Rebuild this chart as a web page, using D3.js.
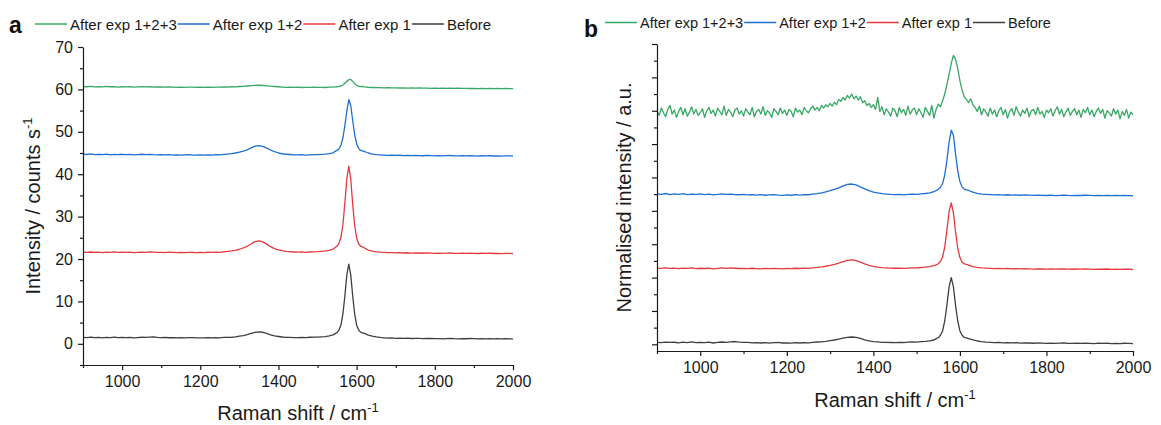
<!DOCTYPE html>
<html>
<head>
<meta charset="utf-8">
<script src="https://cdn.jsdelivr.net/npm/d3@7"></script>
<style>
  body { margin: 0; background: #fff; }
  svg { font-family: "Liberation Sans", Arial, sans-serif; }
</style>
</head>
<body>
<svg id="chart" width="1161" height="425"></svg>
<script>
// Raman shift sample positions (cm-1)
const shift = [
  900,910,920,930,940,950,960,970,980,990,
  1000,1010,1020,1030,1040,1050,1060,1070,1080,1090,
  1100,1110,1120,1130,1140,1150,1160,1170,1180,1190,
  1200,1210,1220,1230,1240,1250,1260,1270,1280,1290,
  1300,1310,1320,1330,1340,1350,1360,1370,1380,1390,
  1400,1410,1420,1430,1440,1450,1460,1470,1480,1490,
  1500,1510,1520,1530,1540,
  1545,1550,1555,1560,1565,1570,1575,1580,1585,1590,1595,1600,1605,1610,1615,1620,
  1630,1640,1650,1660,1670,1680,1690,1700,1710,1720,
  1730,1740,1750,1760,1770,1780,1790,1800,1810,1820,
  1830,1840,1850,1860,1870,1880,1890,1900,1910,1920,
  1930,1940,1950,1960,1970,1980,1990,2000
]
// finer sampling, used for the noisy normalised 1+2+3 trace
const shiftFine = [
  900,905,910,915,920,925,930,935,940,945,950,955,960,965,970,975,980,985,990,995,
  1000,1005,1010,1015,1020,1025,1030,1035,1040,1045,1050,1055,1060,1065,1070,1075,1080,1085,1090,1095,
  1100,1105,1110,1115,1120,1125,1130,1135,1140,1145,1150,1155,1160,1165,1170,1175,1180,1185,1190,1195,
  1200,1205,1210,1215,1220,1225,1230,1235,1240,1245,1250,1255,1260,1265,1270,1275,1280,1285,1290,1295,
  1300,1305,1310,1315,1320,1325,1330,1335,1340,1345,1350,1355,1360,1365,1370,1375,1380,1385,1390,1395,
  1400,1405,1410,1415,1420,1425,1430,1435,1440,1445,1450,1455,1460,1465,1470,1475,1480,1485,1490,1495,
  1500,1505,1510,1515,1520,1525,1530,1535,1540,1545,1550,1555,1560,1565,1570,1575,1580,1585,1590,1595,
  1600,1605,1610,1615,1620,1625,1630,1635,1640,1645,1650,1655,1660,1665,1670,1675,1680,1685,1690,1695,
  1700,1705,1710,1715,1720,1725,1730,1735,1740,1745,1750,1755,1760,1765,1770,1775,1780,1785,1790,1795,
  1800,1805,1810,1815,1820,1825,1830,1835,1840,1845,1850,1855,1860,1865,1870,1875,1880,1885,1890,1895,
  1900,1905,1910,1915,1920,1925,1930,1935,1940,1945,1950,1955,1960,1965,1970,1975,1980,1985,1990,1995,
  2000
]

const seriesNames = ["After exp 1+2+3", "After exp 1+2", "After exp 1", "Before"]
const seriesColors = ["#37a865", "#1d6fd4", "#e4393d", "#3f3f3f"]

// panel a : intensity / counts s-1
const countsExp123 = [
  60.68,60.62,60.72,60.60,60.66,60.58,60.70,60.62,60.67,60.55,
  60.63,60.58,60.65,60.55,60.60,60.66,60.58,60.63,60.55,60.60,
  60.57,60.52,60.60,60.55,60.50,60.56,60.50,60.55,60.52,60.47,
  60.53,60.48,60.55,60.50,60.56,60.52,60.58,60.55,60.62,60.60,
  60.68,60.72,60.80,60.88,60.95,60.98,60.92,60.85,60.75,60.68,
  60.62,60.55,60.50,60.55,60.48,60.52,60.45,60.50,60.46,60.52,
  60.48,60.50,60.45,60.52,60.55,
  60.58,60.62,60.70,60.80,61.05,61.45,61.95,62.30,62.35,61.90,61.35,60.95,60.75,60.65,60.70,60.62,
  60.50,60.45,60.40,60.43,60.36,60.40,60.34,60.38,60.33,60.36,
  60.30,60.35,60.29,60.33,60.28,60.32,60.26,60.30,60.25,60.29,
  60.24,60.28,60.22,60.27,60.23,60.26,60.21,60.25,60.20,60.24,
  60.19,60.23,60.18,60.22,60.17,60.21,60.18,60.16
]
const countsExp12 = [
  44.72,44.65,44.78,44.60,44.70,44.62,44.75,44.58,44.68,44.62,
  44.70,44.60,44.66,44.55,44.62,44.70,44.63,44.68,44.60,44.57,
  44.62,44.55,44.60,44.52,44.58,44.50,44.56,44.60,44.52,44.48,
  44.55,44.50,44.58,44.52,44.60,44.57,44.66,44.75,44.85,45.00,
  45.20,45.45,45.75,46.20,46.60,46.75,46.55,46.15,45.70,45.30,
  45.00,44.82,44.70,44.65,44.58,44.55,44.60,44.52,44.58,44.62,
  44.60,44.68,44.75,44.85,45.05,
  45.40,45.60,46.00,46.90,48.60,51.50,55.00,57.60,56.20,52.60,49.30,47.20,46.10,45.60,45.50,45.35,
  45.00,44.75,44.62,44.55,44.50,44.45,44.50,44.42,44.47,44.40,
  44.45,44.38,44.44,44.40,44.35,44.42,44.37,44.33,44.40,44.32,
  44.37,44.41,44.34,44.30,44.36,44.32,44.38,44.33,44.28,44.35,
  44.30,44.36,44.29,44.33,44.27,44.34,44.30,44.26
]
const countsExp1 = [
  21.62,21.55,21.65,21.58,21.60,21.52,21.63,21.57,21.66,21.54,
  21.60,21.55,21.62,21.50,21.58,21.64,21.57,21.66,21.60,21.55,
  21.58,21.52,21.60,21.55,21.50,21.57,21.52,21.58,21.55,21.50,
  21.56,21.52,21.60,21.55,21.62,21.58,21.70,21.78,21.90,22.05,
  22.30,22.60,23.00,23.55,24.10,24.30,24.05,23.50,22.90,22.45,
  22.15,21.95,21.80,21.72,21.65,21.60,21.66,21.58,21.65,21.70,
  21.72,21.80,21.90,22.05,22.35,
  22.70,23.05,23.75,25.20,28.20,33.30,39.00,41.90,38.80,32.80,27.90,25.00,23.60,23.00,22.85,22.60,
  22.10,21.85,21.70,21.60,21.55,21.48,21.52,21.45,21.50,21.42,
  21.47,21.40,21.45,21.42,21.36,21.43,21.38,21.35,21.40,21.33,
  21.38,21.42,21.35,21.32,21.38,21.34,21.40,21.35,21.30,21.36,
  21.32,21.37,21.30,21.34,21.29,21.35,21.31,21.28
]
const countsBefore = [
  1.52,1.45,1.55,1.48,1.50,1.42,1.53,1.47,1.56,1.44,
  1.50,1.46,1.52,1.40,1.48,1.55,1.50,1.58,1.62,1.52,
  1.48,1.50,1.43,1.47,1.40,1.45,1.38,1.44,1.48,1.40,
  1.42,1.38,1.45,1.40,1.47,1.42,1.50,1.52,1.55,1.62,
  1.80,1.95,2.15,2.45,2.70,2.80,2.72,2.45,2.10,1.85,
  1.72,1.60,1.52,1.50,1.48,1.45,1.52,1.48,1.55,1.58,
  1.56,1.62,1.70,1.85,2.10,
  2.40,2.65,3.30,4.50,7.10,11.40,16.30,18.80,16.20,11.20,7.00,4.40,3.30,2.75,2.60,2.45,
  2.05,1.80,1.62,1.50,1.42,1.35,1.38,1.30,1.33,1.28,
  1.32,1.25,1.30,1.27,1.22,1.28,1.25,1.20,1.24,1.18,
  1.22,1.26,1.20,1.17,1.23,1.19,1.25,1.20,1.16,1.22,
  1.18,1.23,1.17,1.20,1.15,1.21,1.18,1.15
]

// panel b : normalised intensity (each trace 0..1, stacked by normOffsets)
const normExp123 = [
  0.03,-0.04,0.07,0.00,-0.06,0.05,0.11,-0.02,0.04,-0.07,0.02,0.08,-0.03,0.06,-0.05,0.01,0.09,-0.02,0.05,-0.04,
  0.00,0.06,-0.07,0.03,0.08,-0.01,0.04,-0.05,0.07,0.02,-0.03,0.10,-0.04,0.05,0.01,-0.06,0.04,0.07,-0.02,0.03,
  -0.05,0.06,0.01,-0.03,0.08,-0.06,0.02,0.05,-0.02,0.09,-0.04,0.03,0.00,-0.07,0.06,0.02,-0.03,0.07,-0.01,0.04,
  -0.04,0.05,0.02,-0.06,0.07,0.01,0.04,-0.03,0.08,0.03,0.00,0.06,0.10,0.04,0.08,0.03,0.11,0.07,0.12,0.09,
  0.14,0.10,0.16,0.12,0.20,0.17,0.23,0.19,0.26,0.22,0.28,0.21,0.25,0.19,0.24,0.15,0.18,0.11,0.14,0.08,
  0.12,0.05,0.23,0.02,0.09,-0.03,0.06,0.01,-0.05,0.07,0.03,-0.06,0.08,0.00,0.05,-0.04,0.10,-0.02,0.04,0.07,
  -0.03,0.06,0.00,-0.07,0.08,0.02,-0.04,0.11,-0.08,0.05,0.13,0.09,0.18,0.28,0.42,0.58,0.74,0.86,0.80,0.66,
  0.48,0.34,0.24,0.20,0.15,0.21,0.12,0.08,0.02,0.10,-0.03,0.06,0.01,-0.05,0.07,-0.02,0.04,-0.06,0.03,0.08,
  -0.03,0.05,-0.08,0.02,0.06,-0.04,0.09,0.01,-0.05,0.04,-0.01,0.07,-0.06,0.03,0.05,-0.03,0.08,-0.02,0.02,-0.07,
  0.04,0.00,0.06,-0.05,0.03,0.09,-0.02,0.05,-0.06,0.01,0.07,-0.04,0.02,0.06,-0.03,0.04,-0.07,0.05,0.00,0.08,
  -0.03,0.04,-0.06,0.02,0.07,-0.01,0.05,-0.08,0.03,0.00,-0.05,0.06,-0.02,0.04,-0.09,0.02,-0.04,0.05,-0.08,0.01,
  -0.03
]
const normExp12 = [
  0.025,0.018,0.030,0.014,0.024,0.016,0.028,0.012,0.022,0.016,
  0.024,0.014,0.020,0.010,0.016,0.024,0.017,0.022,0.014,0.011,
  0.016,0.009,0.014,0.006,0.012,0.004,0.010,0.014,0.006,0.002,
  0.009,0.004,0.012,0.006,0.014,0.011,0.020,0.029,0.040,0.055,
  0.072,0.092,0.115,0.145,0.168,0.172,0.158,0.130,0.100,0.072,
  0.052,0.038,0.028,0.022,0.016,0.013,0.018,0.010,0.016,0.020,
  0.018,0.024,0.030,0.040,0.058,
  0.075,0.092,0.120,0.180,0.310,0.530,0.800,0.980,0.900,0.620,0.370,0.210,0.130,0.095,0.085,0.075,
  0.050,0.032,0.022,0.017,0.013,0.009,0.013,0.007,0.011,0.005,
  0.009,0.004,0.008,0.005,0.001,0.006,0.003,0.000,0.005,-0.001,
  0.003,0.006,0.001,-0.002,0.003,0.000,0.004,0.001,-0.003,0.002,
  -0.001,0.003,-0.002,0.001,-0.003,0.002,-0.001,-0.004
]
const normExp1 = [
  0.022,0.017,0.025,0.019,0.021,0.014,0.023,0.018,0.026,0.015,
  0.020,0.016,0.022,0.012,0.018,0.024,0.018,0.025,0.020,0.016,
  0.018,0.013,0.020,0.015,0.011,0.017,0.013,0.018,0.015,0.011,
  0.016,0.013,0.020,0.016,0.022,0.019,0.026,0.032,0.040,0.050,
  0.062,0.078,0.098,0.120,0.138,0.145,0.135,0.112,0.085,0.062,
  0.048,0.038,0.030,0.026,0.022,0.020,0.023,0.019,0.023,0.026,
  0.027,0.031,0.036,0.044,0.058,
  0.070,0.088,0.122,0.190,0.340,0.590,0.870,1.000,0.850,0.560,0.320,0.180,0.110,0.085,0.078,0.068,
  0.045,0.032,0.025,0.021,0.018,0.015,0.017,0.013,0.016,0.011,
  0.014,0.010,0.013,0.011,0.008,0.012,0.009,0.007,0.010,0.006,
  0.009,0.011,0.007,0.005,0.009,0.006,0.010,0.007,0.004,0.008,
  0.005,0.009,0.004,0.007,0.003,0.008,0.005,0.003
]
const normBefore = [
  0.030,0.025,0.034,0.028,0.031,0.022,0.033,0.027,0.036,0.024,
  0.030,0.026,0.032,0.020,0.028,0.035,0.030,0.038,0.042,0.032,
  0.028,0.030,0.023,0.027,0.020,0.025,0.018,0.024,0.028,0.020,
  0.022,0.018,0.025,0.020,0.027,0.022,0.030,0.035,0.038,0.045,
  0.055,0.065,0.078,0.092,0.105,0.110,0.103,0.088,0.068,0.052,
  0.042,0.036,0.030,0.028,0.027,0.025,0.030,0.027,0.032,0.035,
  0.034,0.040,0.045,0.052,0.065,
  0.085,0.100,0.135,0.200,0.350,0.590,0.860,1.000,0.860,0.580,0.350,0.200,0.135,0.105,0.095,0.085,
  0.065,0.050,0.040,0.034,0.030,0.026,0.028,0.023,0.025,0.021,
  0.024,0.019,0.022,0.020,0.016,0.021,0.018,0.015,0.019,0.014,
  0.017,0.020,0.015,0.013,0.018,0.014,0.019,0.015,0.012,0.017,
  0.013,0.018,0.012,0.015,0.011,0.016,0.013,0.010
]
const normOffsets = [3.47, 2.23, 1.12, 0]

// ticks
const xTicks = [1000, 1200, 1400, 1600, 1800, 2000]
const xMinorTicks = [900, 1100, 1300, 1500, 1700, 1900]
const yTicksA = [0, 10, 20, 30, 40, 50, 60, 70]
const yMinorA = [-5, 5, 15, 25, 35, 45, 55, 65]
const yTicksB = [0, 0.5, 1, 1.5, 2, 2.5, 3, 3.5, 4, 4.5]
const yMinorB = [0.25, 0.75, 1.25, 1.75, 2.25, 2.75, 3.25, 3.75, 4.25]

const svg = d3.select('#chart')
const axisColor = '#1a1a1a'

function drawPanel(opt) {
  let g = svg.append('g')
  let x = d3.scaleLinear().domain([900, 2000]).range([opt.left, opt.right])
  let y = d3.scaleLinear().domain(opt.yDomain).range([opt.bottom, opt.top])

  // traces
  let line = d3.line().x(d => x(d[0])).y(d => y(d[1]))
  opt.series.forEach((vals, i) => {
    let off = opt.offsets ? opt.offsets[i] : 0
    let xs = vals.length === shiftFine.length ? shiftFine : shift
    g.append('path')
      .datum(d3.zip(xs, vals.map(v => v + off)))
      .attr('d', line)
      .attr('fill', 'none')
      .attr('stroke', seriesColors[i])
      .attr('stroke-width', 1.3)
      .attr('stroke-linejoin', 'round')
  })

  // x axis (major + minor)
  g.append('g').attr('transform', `translate(0,${opt.bottom})`)
    .call(d3.axisBottom(x).tickValues(xTicks).tickSize(5).tickSizeOuter(0).tickPadding(6)
      .tickFormat(d3.format('d')))
  let xMinor = g.append('g').attr('transform', `translate(0,${opt.bottom})`)
    .call(d3.axisBottom(x).tickValues(xMinorTicks).tickSize(3).tickFormat(''))
  xMinor.select('.domain').remove()

  // y axis
  g.append('g').attr('transform', `translate(${opt.left},0)`)
    .call(d3.axisLeft(y).tickValues(opt.yTicks).tickSize(5).tickSizeOuter(0).tickPadding(5)
      .tickFormat(opt.yLabels ? d3.format('d') : ''))
  let yMinor = g.append('g').attr('transform', `translate(${opt.left},0)`)
    .call(d3.axisLeft(y).tickValues(opt.yMinor).tickSize(3).tickFormat(''))
  yMinor.select('.domain').remove()

  g.selectAll('.domain, .tick line').attr('stroke', axisColor).attr('stroke-width', 1.2)
  g.selectAll('.tick text').attr('fill', '#1a1a1a').style('font-size', '16px')
    .style('font-family', '"Liberation Sans", Arial, sans-serif')

  // axis titles
  let xt = g.append('text')
    .attr('x', (opt.left + opt.right) / 2).attr('y', opt.xTitleY)
    .attr('text-anchor', 'middle').attr('font-size', 20).attr('fill', '#1a1a1a')
  xt.append('tspan').text('Raman shift / cm')
  xt.append('tspan').attr('dy', -8).attr('font-size', 13).text('-1')

  let yt = g.append('text')
    .attr('transform', `translate(${opt.yTitleX},${(opt.top + opt.bottom) / 2}) rotate(-90)`)
    .attr('text-anchor', 'middle').attr('font-size', 20).attr('fill', '#1a1a1a')
  opt.yTitle.forEach(part => {
    let t = yt.append('tspan').text(part.text)
    if (part.sup) t.attr('dy', -8).attr('font-size', 13)
  })

  // panel letter
  g.append('text').attr('x', opt.letterX).attr('y', opt.letterY)
    .attr('font-size', 23).attr('font-weight', 'bold').attr('fill', '#111')
    .text(opt.letter)

  // legend in one row
  let lx = opt.legendX
  seriesNames.forEach((name, i) => {
    g.append('line')
      .attr('x1', lx).attr('x2', lx + 32)
      .attr('y1', opt.legendY).attr('y2', opt.legendY)
      .attr('stroke', seriesColors[i]).attr('stroke-width', 1.5)
    let t = g.append('text').attr('x', lx + 35).attr('y', opt.legendY + 5.5)
      .attr('font-size', opt.legendFont).attr('fill', '#1a1a1a').text(name)
    lx = lx + 35 + t.node().getComputedTextLength() + 1
  })
}

drawPanel({
  left: 83, right: 513, top: 47, bottom: 365,
  yDomain: [-5, 70], yTicks: yTicksA, yMinor: yMinorA, yLabels: true,
  series: [countsExp123, countsExp12, countsExp1, countsBefore],
  xTitleY: 420, yTitleX: 40,
  yTitle: [{ text: 'Intensity / counts s' }, { text: '-1', sup: true }],
  letter: 'a', letterX: 9, letterY: 33,
  legendX: 35, legendY: 24, legendFont: 15
})

drawPanel({
  left: 657, right: 1133, top: 44, bottom: 351,
  yDomain: [-0.1, 4.5], yTicks: yTicksB, yMinor: yMinorB, yLabels: false,
  series: [normExp123, normExp12, normExp1, normBefore], offsets: normOffsets,
  xTitleY: 407, yTitleX: 631,
  yTitle: [{ text: 'Normalised intensity / a.u.' }],
  letter: 'b', letterX: 584, letterY: 37,
  legendX: 605, legendY: 22.5, legendFont: 14.5
})
</script>
</body>
</html>
